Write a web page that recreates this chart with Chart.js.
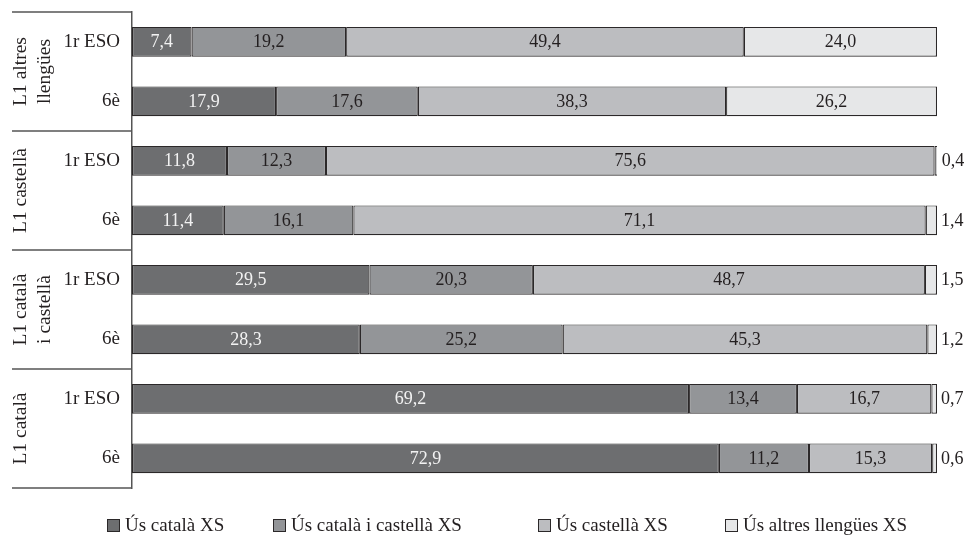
<!DOCTYPE html>
<html>
<head>
<meta charset="utf-8">
<script src="https://cdn.jsdelivr.net/npm/chart.js@4.4.0/dist/chart.umd.min.js"></script>
<style>
  html, body { margin: 0; padding: 0; background: #ffffff; }
  #wrap { position: relative; width: 965px; height: 535px; }
</style>
</head>
<body>
<div id="wrap"><canvas id="c"></canvas></div>
<script>
// ---- Data ----
const categories = ["1r ESO", "6è", "1r ESO", "6è", "1r ESO", "6è", "1r ESO", "6è"];
const groupLabels = [["L1 altres", "llengües"], ["L1 castellà"], ["L1 català", "i castellà"], ["L1 català"]];
const seriesNames = ["Ús català XS", "Ús català i castellà XS", "Ús castellà XS", "Ús altres llengües XS"];
const usCatala         = [7.4, 17.9, 11.8, 11.4, 29.5, 28.3, 69.2, 72.9];
const usCatalaCastella = [19.2, 17.6, 12.3, 16.1, 20.3, 25.2, 13.4, 11.2];
const usCastella       = [49.4, 38.3, 75.6, 71.1, 48.7, 45.3, 16.7, 15.3];
const usAltres         = [24.0, 26.2, 0.4, 1.4, 1.5, 1.2, 0.7, 0.6];

// ---- Style ----
const FONT = "'Liberation Serif', 'DejaVu Serif', serif";
const colors = ["#6d6e70", "#939598", "#bcbdc0", "#e6e7e8"];
const labelColors = ["#f2f2f2", "#231f20", "#231f20", "#231f20"];
const borderCol = "#2b2829";
const lineCol = "#555555";
const legendX = [107, 273, 538, 725];

function fmt(v) { return v.toFixed(1).replace('.', ','); }

const seriesData = [usCatala, usCatalaCastella, usCastella, usAltres];

const decorPlugin = {
  id: 'decor',
  afterDatasetsDraw(chart) {
    const ctx = chart.ctx;
    ctx.save();
    ctx.font = "18px " + FONT;
    ctx.textBaseline = 'middle';
    chart.data.datasets.forEach((ds, di) => {
      const meta = chart.getDatasetMeta(di);
      meta.data.forEach((el, i) => {
        const v = ds.data[i];
        if (v >= 2) {
          ctx.fillStyle = labelColors[di];
          ctx.textAlign = 'center';
          ctx.fillText(fmt(v), (el.base + el.x) / 2, el.y + 1);
        } else {
          ctx.fillStyle = "#231f20";
          ctx.textAlign = 'left';
          ctx.fillText(fmt(v), Math.max(el.x, el.base) + 4, el.y + 1);
        }
      });
    });
    ctx.restore();
  },
  afterDraw(chart) {
    const ctx = chart.ctx;
    const area = chart.chartArea;
    const y = chart.scales.y;
    ctx.save();
    // group separator lines
    ctx.strokeStyle = lineCol;
    ctx.lineWidth = 1.5;
    const bounds = [area.top];
    for (let i = 1; i < categories.length - 1; i += 2) {
      bounds.push((y.getPixelForValue(i) + y.getPixelForValue(i + 1)) / 2);
    }
    bounds.push(area.bottom);
    bounds.forEach(b => {
      ctx.beginPath();
      ctx.moveTo(12, b);
      ctx.lineTo(area.left, b);
      ctx.stroke();
    });
    // group labels (rotated)
    ctx.fillStyle = "#231f20";
    ctx.font = "19.5px " + FONT;
    ctx.textAlign = 'center';
    ctx.textBaseline = 'middle';
    groupLabels.forEach((lines, g) => {
      const cy = (bounds[g] + bounds[g + 1]) / 2;
      lines.forEach((t, li) => {
        ctx.save();
        ctx.translate(21 + li * 24, cy);
        ctx.rotate(-Math.PI / 2);
        ctx.fillText(t, 0, 0);
        ctx.restore();
      });
    });
    // legend
    ctx.font = "19px " + FONT;
    ctx.textAlign = 'left';
    ctx.textBaseline = 'alphabetic';
    seriesNames.forEach((name, i) => {
      const x = legendX[i];
      ctx.fillStyle = colors[i];
      ctx.fillRect(x + 0.5, 519.5, 12, 12);
      ctx.strokeStyle = borderCol;
      ctx.lineWidth = 1;
      ctx.strokeRect(x + 0.5, 519.5, 12, 12);
      ctx.fillStyle = "#231f20";
      ctx.fillText(name, x + 18, 531);
    });
    ctx.restore();
  }
};

new Chart(document.getElementById('c'), {
  type: 'bar',
  data: {
    labels: categories,
    datasets: seriesData.map((d, i) => ({
      label: seriesNames[i],
      data: d,
      backgroundColor: colors[i],
      borderColor: borderCol,
      borderWidth: 1.2,
      borderSkipped: false,
      barPercentage: 0.5,
      categoryPercentage: 1.0
    }))
  },
  options: {
    indexAxis: 'y',
    responsive: true,
    maintainAspectRatio: false,
    animation: false,
    layout: { padding: { top: 12, right: 28, bottom: 47, left: 0 } },
    plugins: {
      legend: { display: false },
      tooltip: { enabled: false }
    },
    scales: {
      x: { stacked: true, min: 0, max: 100, display: false },
      y: {
        stacked: true,
        grid: { display: false, drawTicks: false },
        border: { display: true, color: lineCol, width: 1.5 },
        ticks: { color: "#231f20", font: { family: FONT, size: 19 }, padding: 12 },
        afterFit(scale) { scale.width = 132; scale.paddingTop = 0; scale.paddingBottom = 0; }
      }
    }
  },
  plugins: [decorPlugin]
});
</script>
</body>
</html>
